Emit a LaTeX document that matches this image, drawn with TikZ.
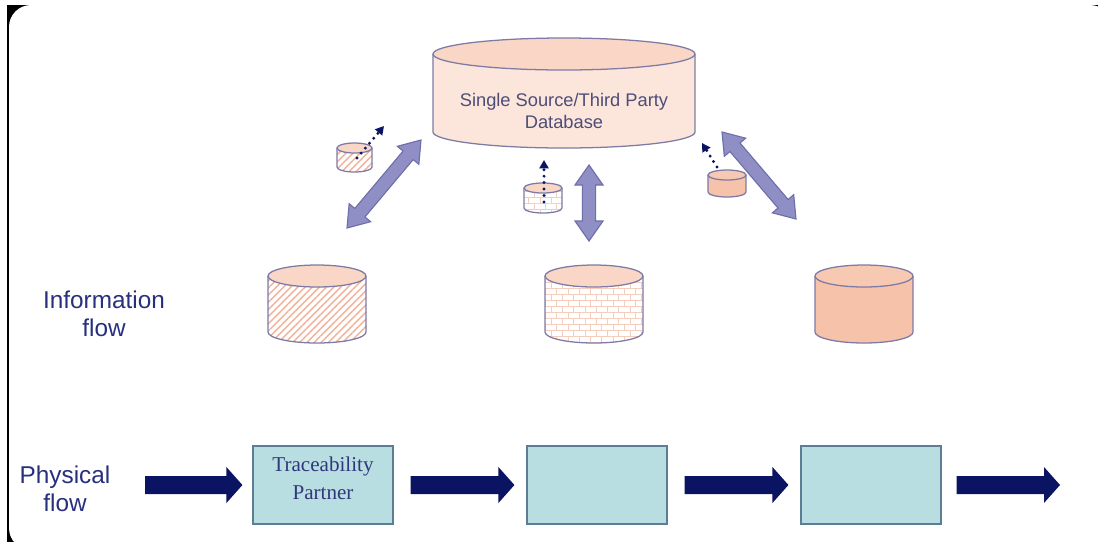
\documentclass[tikz,border=0pt]{standalone}
\usepackage{fontspec}
\setmainfont{Liberation Serif}
\setsansfont{Liberation Sans}
\usetikzlibrary{calc,patterns,patterns.meta,arrows.meta}

\definecolor{dbedge}{HTML}{7D7BA6}
\definecolor{dbpale}{HTML}{FCE6DC}
\definecolor{dbtop}{HTML}{F9D6C6}
\definecolor{peach}{HTML}{F6C2A9}
\definecolor{peachline}{HTML}{F3B096}
\definecolor{brickline}{HTML}{F6CDBB}
\definecolor{lavender}{HTML}{8F8FC6}
\definecolor{lavedge}{HTML}{6E6EAA}
\definecolor{navy}{HTML}{0B1462}
\definecolor{partnerfill}{HTML}{B9DEE2}
\definecolor{partneredge}{HTML}{5B7D95}
\definecolor{labelblue}{HTML}{28307E}
\definecolor{dbink}{HTML}{4D4D78}

\pgfdeclarepatternformonly{brickwall}{\pgfqpoint{-0.5pt}{-0.5pt}}{\pgfqpoint{8.5pt}{9.1pt}}{\pgfqpoint{8pt}{8.6pt}}{%
  \pgfsetlinewidth{0.6pt}
  \pgfpathmoveto{\pgfqpoint{0pt}{0pt}}\pgfpathlineto{\pgfqpoint{8pt}{0pt}}
  \pgfpathmoveto{\pgfqpoint{0pt}{4.3pt}}\pgfpathlineto{\pgfqpoint{8pt}{4.3pt}}
  \pgfpathmoveto{\pgfqpoint{0pt}{0pt}}\pgfpathlineto{\pgfqpoint{0pt}{4.3pt}}
  \pgfpathmoveto{\pgfqpoint{4pt}{4.3pt}}\pgfpathlineto{\pgfqpoint{4pt}{8.6pt}}
  \pgfusepath{stroke}}

\tikzset{
  dbline/.style={draw=dbedge, line width=0.9pt},
  palebody/.style={fill=dbpale},
  solidbody/.style={fill=peach},
  hatchbody/.style={fill=white, postaction={pattern={Lines[angle=45,distance=3.6pt,line width=1pt]}, pattern color=peachline}},
  brickbody/.style={fill=white, postaction={pattern=brickwall, pattern color=brickline}},
  peachtop/.style={fill=dbtop},
  solidtop/.style={fill=peach!90!white},
  syncarrow/.style={fill=lavender, draw=lavedge, line width=0.8pt, line join=miter},
  flowarrow/.style={fill=navy},
  updots/.style={draw=navy, line width=2.3pt, line cap=round, dash pattern=on 0pt off 4.6pt, -{Triangle[length=6pt,width=6.5pt]}},
  partner/.style={draw=partneredge, fill=partnerfill, line width=0.8pt, minimum width=3.5cm, minimum height=1.95cm},
  partnertext/.style={align=center, text=navy!85!white, font=\rmfamily\fontsize{15}{20}\selectfont},
  flowlabel/.style={align=center, text=labelblue, font=\sffamily\fontsize{17.3}{20}\selectfont},
  dbtext/.style={align=center, text=dbink, font=\sffamily\fontsize{13}{15.6}\selectfont}
}

\newcommand{\dbdrum}[8]{%
  \fill[#7] (#2-#4,#3) rectangle (#2+#4,#3+#6);
  \fill[#7] (#2,#3+#6) ellipse [x radius=#4, y radius=#5];
  \draw[dbline] (#2-#4,#3) -- (#2-#4,#3+#6) arc [start angle=180, end angle=0, x radius=#4, y radius=#5] -- (#2+#4,#3);
  \filldraw[dbline,#8] (#2,#3) ellipse [x radius=#4, y radius=#5];
  \coordinate (#1) at (#2,#3+#6/2);
}

\newcommand{\syncpath}[2]{%
  \filldraw[syncarrow] (#1) -- ($(#1)!0.5cm!(#2)!0.35cm!90:(#2)$) -- ($(#1)!0.5cm!(#2)!0.165cm!90:(#2)$)
    -- ($(#2)!0.5cm!(#1)!0.165cm!-90:(#1)$) -- ($(#2)!0.5cm!(#1)!0.35cm!-90:(#1)$) -- (#2)
    -- ($(#2)!0.5cm!(#1)!0.35cm!90:(#1)$) -- ($(#2)!0.5cm!(#1)!0.165cm!90:(#1)$)
    -- ($(#1)!0.5cm!(#2)!0.165cm!-90:(#2)$) -- ($(#1)!0.5cm!(#2)!0.35cm!-90:(#2)$) -- cycle;
}

\newcommand{\flowpath}[2]{%
  \fill[flowarrow] ($(#1)+(0,-9)$) -- ($(#2)+(-16,-9)$) -- ($(#2)+(-16,-18)$) -- (#2)
    -- ($(#2)+(-16,18)$) -- ($(#2)+(-16,9)$) -- ($(#1)+(0,9)$) -- cycle;
}

\begin{document}
\begin{tikzpicture}[x=0.025cm, y=-0.025cm]
  \useasboundingbox (0,0) rectangle (1098,542);
  \fill[white] (0,0) rectangle (1098,542);
  \fill[black] (7,5) rectangle (1098,542);
  \fill[white, rounded corners=0.55cm] (9,5) rectangle (1112,550);

  \dbdrum{central}{564}{54}{131}{16}{78}{palebody}{peachtop}
  \node[dbtext] (centraltext) at (564,111) {Single Source/Third Party\\Database};

  \dbdrum{dbleft}{317}{276}{49}{11}{56}{hatchbody}{peachtop}
  \dbdrum{dbmid}{594}{276}{49}{11}{56}{brickbody}{peachtop}
  \dbdrum{dbright}{864}{276}{49}{11}{56}{solidbody}{solidtop}

  \dbdrum{copyleft}{354.5}{148}{17.5}{5}{19}{hatchbody}{peachtop}
  \dbdrum{copymid}{543}{188}{19}{5}{20}{brickbody}{peachtop}
  \dbdrum{copyright}{727}{175}{19}{5}{17}{solidbody}{solidtop}

  \coordinate (leftlow) at (347,228);
  \coordinate (lefthigh) at (421,140);
  \coordinate (midhigh) at (589,165);
  \coordinate (midlow) at (589,241);
  \coordinate (righthigh) at (722,132);
  \coordinate (rightlow) at (796,219);
  \syncpath{leftlow}{lefthigh}
  \syncpath{midhigh}{midlow}
  \syncpath{righthigh}{rightlow}

  \coordinate (upleft) at (384,126);
  \coordinate (upmid) at (544,160);
  \coordinate (upright) at (702,143);
  \draw[updots] (357,158) -- (upleft);
  \draw[updots] (544,202) -- (upmid);
  \draw[updots] (717,167) -- (upright);

  \node[flowlabel] (infolabel) at (104,314) {Information\\flow};
  \node[flowlabel] (physlabel) at (65,489) {Physical\\flow};

  \node[partner] (p1) at (323,485) {};
  \node[partnertext] (p1text) at (323,478) {Traceability\\Partner};
  \node[partner] (p2) at (597,485) {};
  \node[partner] (p3) at (871,485) {};

  \coordinate (f1s) at (145,485);
  \coordinate (f1e) at ($(p1.west)+(-10,0)$);
  \coordinate (f2s) at ($(p1.east)+(17,0)$);
  \coordinate (f2e) at ($(p2.west)+(-12,0)$);
  \coordinate (f3s) at ($(p2.east)+(17,0)$);
  \coordinate (f3e) at ($(p3.west)+(-12,0)$);
  \coordinate (f4s) at ($(p3.east)+(15,0)$);
  \coordinate (f4e) at (1060,485);
  \flowpath{f1s}{f1e}
  \flowpath{f2s}{f2e}
  \flowpath{f3s}{f3e}
  \flowpath{f4s}{f4e}
\end{tikzpicture}
\end{document}
